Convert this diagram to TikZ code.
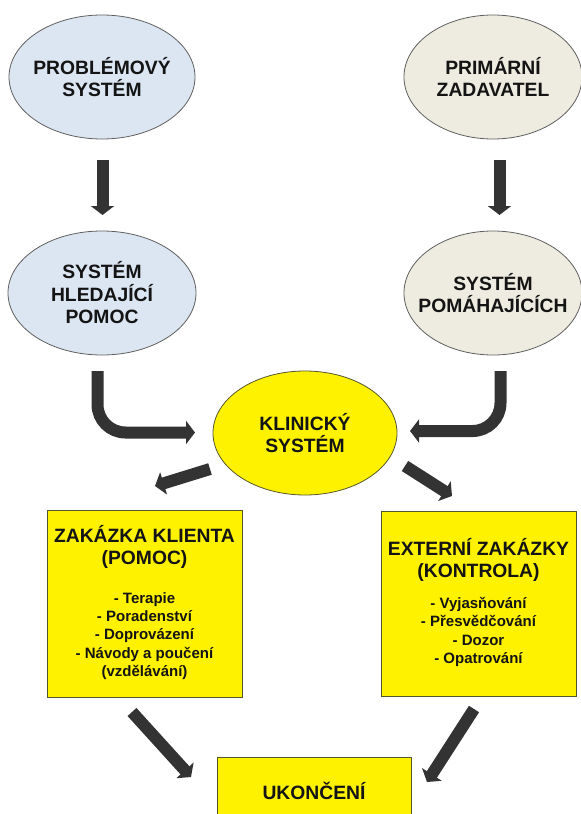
\documentclass[tikz,border=0pt]{standalone}
\usepackage{fontspec}
\setmainfont{Liberation Sans}
\usetikzlibrary{shapes.geometric,arrows.meta}

\definecolor{arrowgray}{HTML}{333333}
\definecolor{bluefill}{HTML}{DCE6F2}
\definecolor{beigefill}{HTML}{EEECE1}
\definecolor{ellline}{HTML}{5F5F5F}
\definecolor{yellowline}{HTML}{55552A}
\definecolor{txt}{HTML}{141414}

\tikzset{
  ell/.style={ellipse, draw=ellline, line width=0.8pt, inner sep=0pt,
              minimum width=186pt, minimum height=124pt},
  ttl/.style={align=center, text=txt, inner sep=0pt,
              font=\bfseries\fontsize{19.3}{22.5}\selectfont},
  lst/.style={align=center, text=txt, inner sep=0pt,
              font=\bfseries\fontsize{15}{18.3}\selectfont},
  ybox/.style={rectangle, draw=yellowline, line width=0.8pt, fill=yellow,
               minimum width=195pt, minimum height=186pt, inner sep=0pt},
  fat/.style={draw=arrowgray, line width=12pt,
              -{Triangle[length=9pt,width=23pt]}},
}

\begin{document}
\begin{tikzpicture}[x=1pt, y=-1pt]
  \useasboundingbox (0,0) rectangle (581,814);

  % upper systems
  \node[ell, fill=bluefill] (prob) at (102,77) {};
  \node[ttl] (probtext) at (prob) {PROBLÉMOVÝ\\SYSTÉM};
  \node[ell, fill=beigefill, minimum width=178pt] (prim) at (493,77) {};
  \node[ttl] (primtext) at (prim) {PRIMÁRNÍ\\ZADAVATEL};

  \node[ell, fill=bluefill, minimum width=188pt] (hled) at (102,293) {};
  \node[ttl] (hledtext) at (hled) {SYSTÉM\\HLEDAJÍCÍ\\POMOC};
  \node[ell, fill=beigefill, minimum width=178pt] (poma) at (493,293) {};
  \node[ttl] (pomatext) at (poma) {SYSTÉM\\POMÁHAJÍCÍCH};

  % clinical system
  \node[ell, fill=yellow, draw=yellowline, minimum width=184pt] (klin) at (305,433) {};
  \node[ttl] (klintext) at (klin) {KLINICKÝ\\SYSTÉM};

  % commissions
  \node[ybox, minimum height=187pt] (klient) at (144.5,603.5) {};
  \node[ttl] (klienttitle) at (144.5,547) {ZAKÁZKA KLIENTA\\(POMOC)};
  \node[lst] (klientlist) at (144.5,636) {- Terapie\\- Poradenství\\- Doprovázení\\- Návody a poučení\\(vzdělávání)};

  \node[ybox, minimum height=185pt] (extern) at (478.5,603.5) {};
  \node[ttl] (externtitle) at (478.5,560) {EXTERNÍ ZAKÁZKY\\(KONTROLA)};
  \node[lst] (externlist) at (478.5,632) {- Vyjasňování\\- Přesvědčování\\- Dozor\\- Opatrování};

  % end
  \node[ybox, minimum width=194pt, minimum height=68pt, anchor=north] (konec) at (314,757) {};
  \node[ttl] (konectext) at (314,791) {UKONČENÍ};

  % arrow end points
  \coordinate (a1s) at (102.5,160);  \coordinate (a1e) at (102.5,215);
  \coordinate (a2s) at (499.5,160);  \coordinate (a2e) at (499.5,215);
  \coordinate (a3s) at (97.5,371);   \coordinate (a3c) at (97.5,432.5);
  \coordinate (a3e) at (195,432.5);
  \coordinate (a4s) at (500.5,371);  \coordinate (a4c) at (500.5,431);
  \coordinate (a4e) at (410,431);
  \coordinate (a5s) at (210,469);    \coordinate (a5e) at (155,486);
  \coordinate (a6s) at (405,466);    \coordinate (a6e) at (452,496);
  \coordinate (a7s) at (132,712);    \coordinate (a7e) at (191,777);
  \coordinate (a8s) at (474,709);    \coordinate (a8e) at (427,782);

  % arrows
  \draw[fat] (a1s) -- (a1e);
  \draw[fat] (a2s) -- (a2e);
  \draw[fat, rounded corners=28pt] (a3s) -- (a3c) -- (a3e);
  \draw[fat, rounded corners=28pt] (a4s) -- (a4c) -- (a4e);
  \draw[fat] (a5s) -- (a5e);
  \draw[fat] (a6s) -- (a6e);
  \draw[fat] (a7s) -- (a7e);
  \draw[fat] (a8s) -- (a8e);
\end{tikzpicture}
\end{document}
